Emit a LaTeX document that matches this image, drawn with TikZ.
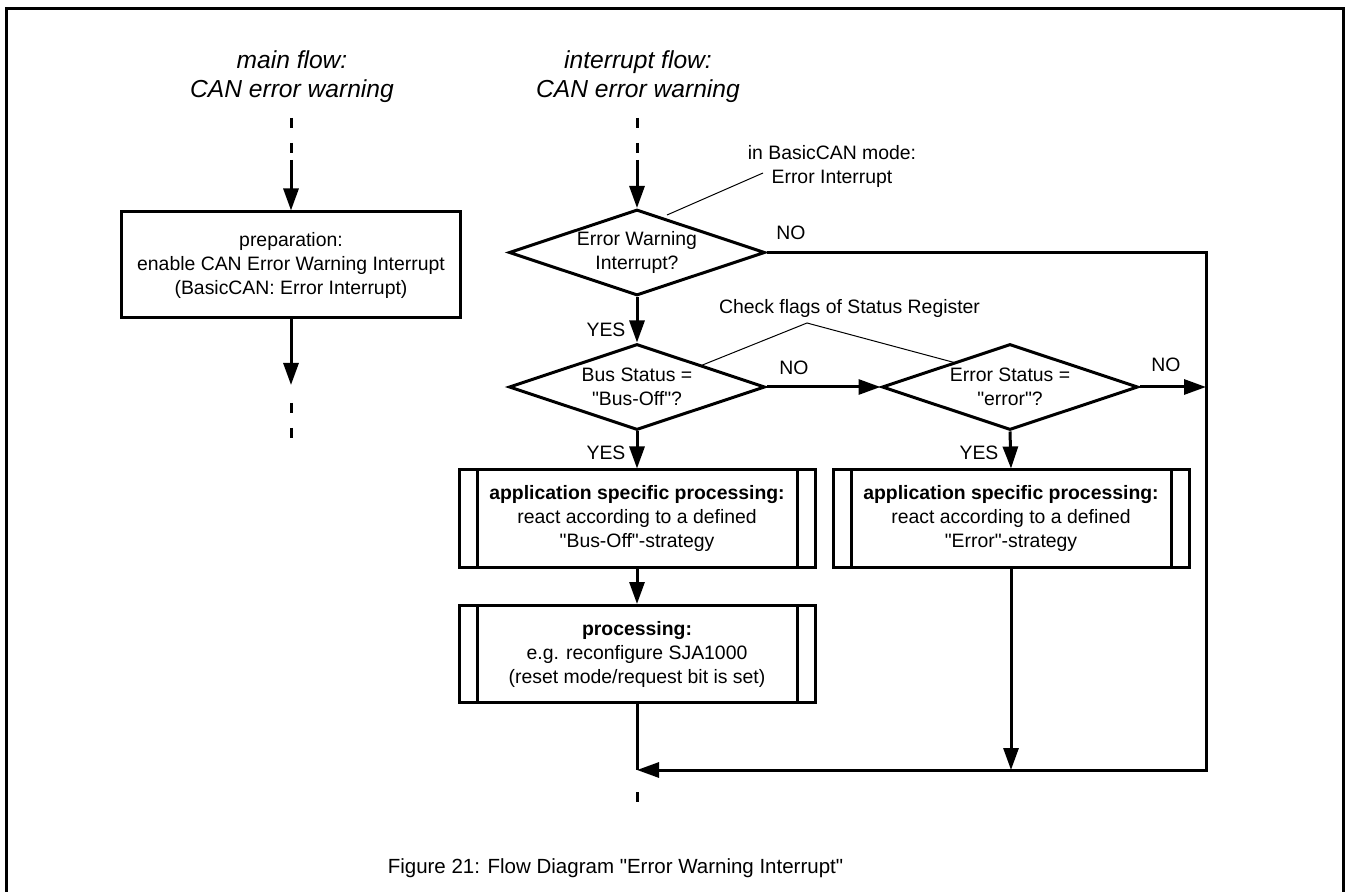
\documentclass[tikz,border=0pt]{standalone}
\usepackage{fontspec}
\setmainfont{Liberation Sans}[Ligatures=TeXOff]
\usetikzlibrary{arrows.meta,shapes.geometric,calc}
\begin{document}
\begin{tikzpicture}[x=0.5pt,y=-0.5pt,
  flow/.style={line width=1.5pt},
  arr/.style={flow,-{Triangle[width=7.5pt,length=11pt]}},
  dots/.style={flow,dash pattern=on 5pt off 7.5pt},
  thinline/.style={line width=0.5pt},
  body/.style={font=\fontsize{9.7}{12}\selectfont},
  lbl/.style={body,inner sep=0pt},
  title/.style={font=\fontsize{12.3}{14.5}\selectfont\itshape,align=center,inner sep=0pt},
  decision/.style={draw,flow,diamond,aspect=2.98,inner sep=0pt,
    minimum width=128pt,minimum height=43pt,align=center,body},
  procbox/.style={draw,flow,rectangle,minimum width=178pt,minimum height=48.5pt,
    align=center,body,inner sep=0pt},
  subproc/.style={procbox,path picture={
    \draw[flow] ([xshift=9pt]path picture bounding box.north west) -- ([xshift=9pt]path picture bounding box.south west);
    \draw[flow] ([xshift=-9pt]path picture bounding box.north east) -- ([xshift=-9pt]path picture bounding box.south east);}}
]
\useasboundingbox (0,0) rectangle (1348,892);

% open frame
\draw[line width=1.5pt] (6,892) -- (6,9) -- (1343,9) -- (1343,892);

% headings
\node[title] (t1) at (292,77) {main flow:\\CAN error warning};
\node[title] (t2) at (638,77) {interrupt flow:\\CAN error warning};

% main flow
\node[procbox,minimum width=169.5pt,minimum height=53pt] (prep) at (291,265)
  {preparation:\\enable CAN Error Warning Interrupt\\(BasicCAN: Error Interrupt)};
\coordinate (ma) at (291,118);
\coordinate (mb) at (291,160);
\draw[dots] (ma) -- (mb);
\draw[arr] (mb) -- (prep.north);
\coordinate (mc) at (291,385);
\draw[arr] (prep.south) -- (mc);
\coordinate (md) at (291,403);
\coordinate (me) at (291,440);
\draw[dots] (md) -- (me);

% interrupt flow
\node[decision] (d1) at (637,252.5) {Error Warning\\Interrupt?};
\node[decision] (d2) at (637,387) {Bus Status =\\"Bus-Off"?};
\node[decision] (d3) at (1010,387) {Error Status =\\"error"?};
\node[subproc] (p1) at (637,518.5) {\textbf{application specific processing:}\\react according to a defined\\"Bus-Off"-strategy};
\node[subproc] (p2) at (637,654) {\textbf{processing:}\\e.g. reconfigure SJA1000\\(reset mode/request bit is set)};
\node[subproc] (p3) at (1011,518.5) {\textbf{application specific processing:}\\react according to a defined\\"Error"-strategy};

\coordinate (ia) at (637,118);
\coordinate (ib) at (637,160);
\draw[dots] (ia) -- (ib);
\draw[arr] (ib) -- (d1.north);
\draw[arr] (d1.south) -- (d2.north);
\draw[arr] (d2.east) -- (d3.west);
\draw[arr] (d2.south) -- (p1.north);
\draw[arr] (p1.south) -- (p2.north);
\draw[arr] (d3.south) -- (p3.north);

% NO branches gathered on the right rail, joined at the bottom
\coordinate (r1) at (1206,252.5);
\coordinate (r2) at (1206,770);
\coordinate (j) at (637,770);
\draw[arr] (d1.east) -- (r1) -- (r2) -- (j);
\draw[arr] (d3.east) -- (d3.east -| r1);
\draw[arr] (p3.south) -- (p3.south |- r2);
\draw[flow] (p2.south) -- (j);
\coordinate (ka) at (637,792);
\coordinate (kb) at (637,806);
\draw[dots] (ka) -- (kb);

% branch labels
\node[lbl] (no1) at (791,233) {NO};
\node[lbl] (no2) at (794,368) {NO};
\node[lbl] (no3) at (1166,365) {NO};
\node[lbl] (yes1) at (606,330) {YES};
\node[lbl] (yes2) at (606,453) {YES};
\node[lbl] (yes3) at (979,453) {YES};

% annotations
\node[lbl,align=center] (n1) at (832,166) {in BasicCAN mode:\\Error Interrupt};
\coordinate (n1a) at (763,173);
\coordinate (n1b) at (667,215);
\draw[thinline] (n1a) -- (n1b);
\node[lbl] (chk) at (849.5,308) {Check flags of Status Register};
\coordinate (cp) at (807,323);
\coordinate (cl) at (700,366);
\coordinate (cr) at (956,363);
\draw[thinline] (cl) -- (cp) -- (cr);

% caption
\node[inner sep=0pt,font=\fontsize{10.25}{12}\selectfont] (cap) at (615.5,868) {Figure 21: Flow Diagram "Error Warning Interrupt"};
\end{tikzpicture}
\end{document}
